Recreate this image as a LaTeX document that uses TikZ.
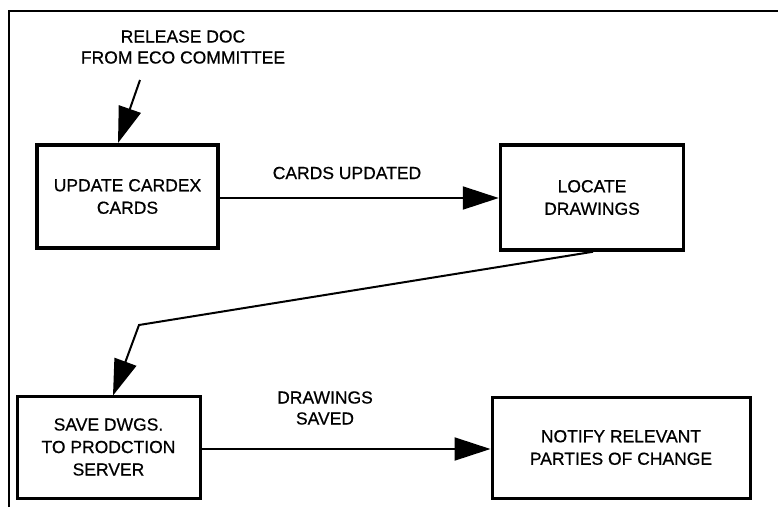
\documentclass[tikz,border=0pt]{standalone}
\usepackage{fontspec}
\setmainfont{Liberation Sans}
\newfontfamily\diagfont{Liberation Sans}[FakeBold=0.6]
\usetikzlibrary{arrows.meta}
\begin{document}
\begin{tikzpicture}[x=1pt,y=-1pt,
  proc/.style={draw, line width=3.5pt, inner sep=0pt, font=\diagfont\fontsize{17.5}{22.5}\selectfont, align=center},
  lbl/.style={font=\diagfont\fontsize{17.5}{21}\selectfont, align=center, inner sep=0pt},
  flow/.style={line width=2pt, -{Triangle[length=36pt,width=23pt]}}]
\useasboundingbox (0,0) rectangle (778,507);
\fill[white] (0,0) rectangle (778,507);
\draw[line width=1.5pt] (9,507) -- (9,11) -- (778,11);
\node[proc, minimum width=181pt, minimum height=103pt] (upd) at (127.5,196.5) {UPDATE CARDEX\\CARDS};
\node[proc, minimum width=183pt, minimum height=105pt] (loc) at (592,197.5) {LOCATE\\DRAWINGS};
\node[proc, line width=3pt, minimum width=183pt, minimum height=102pt] (save) at (108.5,447) {SAVE DWGS.\\TO PRODCTION\\SERVER};
\node[proc, line width=3pt, minimum width=258pt, minimum height=101pt] (notify) at (621,447.5) {NOTIFY RELEVANT\\PARTIES OF CHANGE};
\node[lbl] (rel) at (183,47) {RELEASE DOC\\FROM ECO COMMITTEE};
\node[lbl] (cu) at (347,173) {CARDS UPDATED};
\node[lbl] (ds) at (325,408) {DRAWINGS\\SAVED};
\coordinate (relstart) at (140,80);
\coordinate (bend) at (139,325);
\draw[flow] (relstart) -- (118,143);
\draw[flow] (upd.east |- 0,198) -- (loc.west |- 0,198);
\draw[flow] (loc.south -| 593,0) -- (bend) -- (113,395.5);
\draw[flow] (save.east |- 0,449) -- (notify.west |- 0,449);
\end{tikzpicture}
\end{document}
